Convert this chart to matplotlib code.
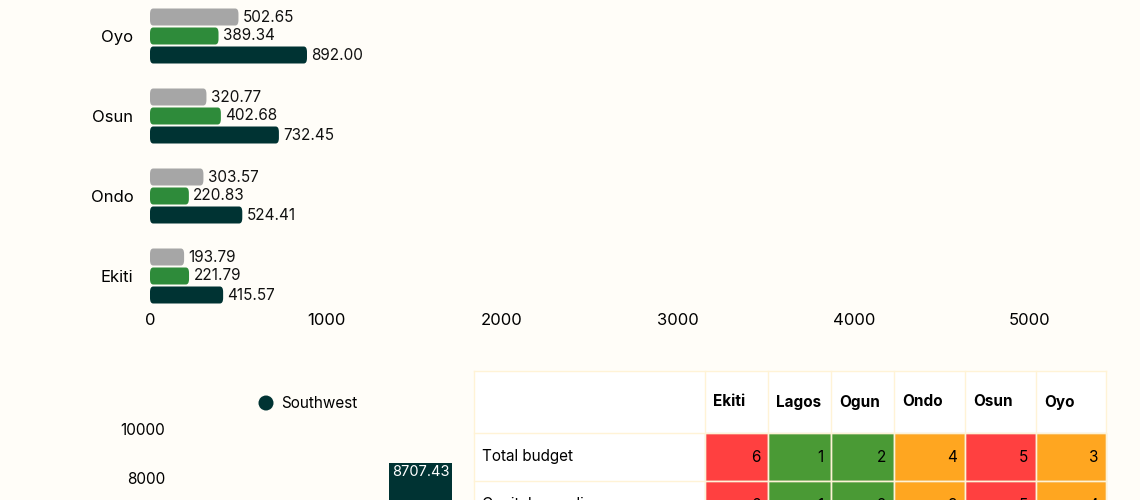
import matplotlib
matplotlib.use("Agg")
import matplotlib.pyplot as plt
from matplotlib.patches import FancyBboxPatch, Rectangle, Circle

plt.rcParams['font.family'] = ['Inter', 'DejaVu Sans']

states = ["Ekiti", "Ondo", "Osun", "Oyo"]
gray_vals = [193.79, 303.57, 320.77, 502.65]
green_vals = [221.79, 220.83, 402.68, 389.34]
dark_vals = [415.57, 524.41, 732.45, 892.00]
xticks = [0, 1000, 2000, 3000, 4000, 5000]

region = "Southwest"
region_total = 8707.43
yticks2 = [8000, 10000]

tbl_cols = ["Ekiti", "Lagos", "Ogun", "Ondo", "Osun", "Oyo"]
tbl_rows = ["Total budget", "Capital spending"]
tbl_vals = [[6, 1, 2, 4, 5, 3], [6, 1, 2, 3, 5, 4]]

BG = "#FFFDF8"
W, H = 1140, 500
fig = plt.figure(figsize=(W/100, H/100), dpi=100, facecolor=BG)

def fx(px): return px / W
def fy(py): return 1 - py / H

# top bar chart
ax = fig.add_axes([fx(150), fy(305), fx(880), (305 - 0) / H])
ax.set_facecolor(BG)
ax.set_xlim(0, 5000)
ax.set_ylim(-(305 - 276) / 80, (276 - 0) / 80)
cols = ["#A6A6A6", "#2E8B3A", "#003333"]
off = [19 / 80, 0, -19 / 80]
h = 17 / 80
for i, s in enumerate(states):
    for vals, c, o in zip([gray_vals, green_vals, dark_vals], cols, off):
        v = vals[i]
        y = i + o
        p = FancyBboxPatch((0, y - h / 2), v, h, boxstyle="round,pad=0,rounding_size=18",
                           mutation_aspect=1/260, fc=c, ec="none")
        ax.add_patch(p)
        ax.text(v + 25, y, f"{v:.2f}", va="center", ha="left", fontsize=11, color="#111")
ax.set_yticks(range(len(states)))
ax.set_yticklabels(states, fontsize=12)
ax.set_xticks(xticks)
ax.set_xticklabels([str(t) for t in xticks], fontsize=12)
ax.tick_params(length=0, pad=12)
ax.tick_params(axis='x', pad=6)
for sp in ax.spines.values():
    sp.set_visible(False)

# bottom left bar chart (x in figure pixels)
ax2 = fig.add_axes([0, fy(900), fx(460), 490 / H])
ax2.set_facecolor(BG)
ax2.set_xlim(0, 460)
ax2.set_ylim(10857 - 20000, 10857)
ax2.bar([389 + 31.5], [region_total], width=63, color="#003333")
ax2.text(420.5, region_total - 100, f"{region_total:.2f}", ha="center", va="top",
         color="white", fontsize=10.5)
ax2.set_xticks([]); ax2.set_yticks([])
for t in yticks2:
    ax2.text(165, t, str(t), ha="right", va="center", fontsize=11)
for sp in ax2.spines.values():
    sp.set_visible(False)

# table and legend in pixel coords
ta = fig.add_axes([0, 0, 1, 1], facecolor="none")
ta.set_xlim(0, W); ta.set_ylim(H, 0); ta.axis("off")
ta.add_patch(Circle((266, 403), 7.5, fc="#003333", ec="none"))
ta.text(281, 403, region, va="center", fontsize=11)
xs = [474, 705, 768, 831, 894, 965, 1036, 1106]
ys = [371, 433, 481, 529]
cmap = {1: "#4A9A35", 2: "#4A9A35", 3: "#FFA620", 4: "#FFA620", 5: "#FF4040", 6: "#FF4040"}
ta.add_patch(Rectangle((xs[0], ys[0]), xs[-1] - xs[0], ys[-1] - ys[0], fc="white", ec="none"))
for j, c in enumerate(tbl_cols):
    ta.text(xs[j + 1] + 8, (ys[0] + ys[1]) / 2, c, fontsize=11, weight="bold", va="center")
for r, name in enumerate(tbl_rows):
    y0, y1 = ys[r + 1], ys[r + 2]
    ta.text(xs[0] + 8, (y0 + y1) / 2, name, fontsize=11, va="center")
    for j, v in enumerate(tbl_vals[r]):
        ta.add_patch(Rectangle((xs[j + 1], y0), xs[j + 2] - xs[j + 1], y1 - y0,
                               fc=cmap[v], ec="#E8E0D0", lw=1))
        ta.text(xs[j + 2] - 8, (y0 + y1) / 2, str(v), ha="right", va="center", fontsize=11)
for x in xs:
    ta.plot([x, x], [ys[0], ys[-1]], color="#FFF3D6", lw=1)
for y in ys:
    ta.plot([xs[0], xs[-1]], [y, y], color="#FFF3D6", lw=1)

fig.savefig("out.png", dpi=100, facecolor=BG)
